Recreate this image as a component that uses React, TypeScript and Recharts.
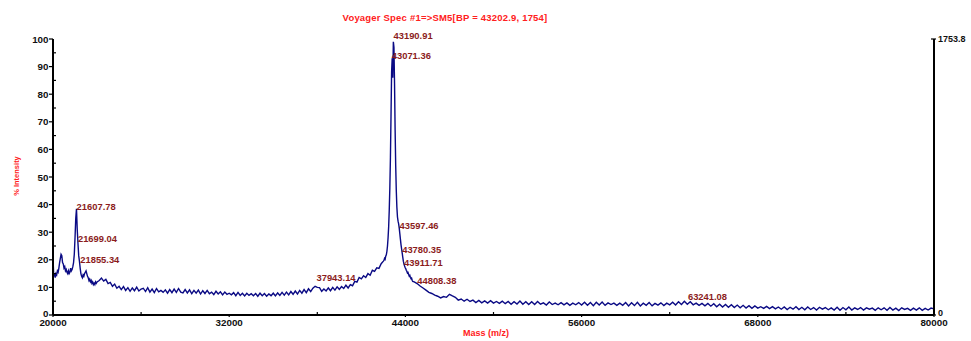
import { ComposedChart, Line, Scatter, XAxis, YAxis } from 'recharts'

// spectrum in four pieces, each on its own mass grid
const segAStart = 20000
const segAStep = 50
const segAValues = [
  21, 14, 15, 13.5, 15, 14.5, 16, 15.5, 17, 19,
  20.5, 22, 21.5, 19, 18.5, 17, 17.5, 16, 16.5, 15.5,
  15, 16, 15, 15.5, 17, 16, 16.5, 17.5, 19, 22,
  28, 35, 38.5, 31, 26, 21.5, 19.5, 17, 15, 14,
  13.5, 14.5, 14, 15, 15.5, 16, 15, 14, 13.5, 12.5,
  13, 12, 12.5, 11.5, 12, 11, 11.5, 11, 12, 11.5,
  12
]

const segBStart = 23150
const segBStep = 150
const segBValues = [
  12.5, 13.4, 12.3, 12.9, 11.4, 11.8, 10.4, 11.2, 9.7, 10.4,
  9.2, 10.3, 8.9, 9.9, 8.6, 9.8, 8.8, 10.1, 8.7, 9.4,
  9.7, 8.5, 9.9, 8.3, 9.4, 8.1, 9.6, 8.4, 8.9, 8.2,
  9.1, 7.9, 9.2, 8.1, 9.4, 8.2, 9.6, 8.3, 8.0, 9.2,
  8.0, 9.1, 7.7, 8.9, 7.9, 9.0, 7.6, 8.8, 7.8, 8.9,
  7.7, 8.3, 7.4, 8.6, 7.6, 8.4, 7.3, 8.3, 7.5, 7.9,
  7.3, 8.1, 7.0, 8.2, 7.1, 7.9, 6.9, 7.9, 7.1, 7.7,
  7.0, 7.8, 6.8, 7.9, 7.0, 7.8, 6.8, 7.6, 7.0, 7.9,
  6.9, 8.0, 7.1, 8.2, 7.2, 8.3, 7.3, 8.5, 7.5, 8.7,
  7.6, 8.9, 7.9, 9.2, 8.1, 9.5, 8.5, 9.7, 10.4, 10.0,
  9.9, 8.6, 9.4, 8.7, 9.8, 8.8, 10.0, 9.0, 10.2, 9.3,
  10.3, 9.6, 10.8, 9.8, 11.0, 10.6, 12.2, 11.9, 13.6, 13.1,
  14.2, 13.6, 15.0, 14.4, 16.2, 15.8, 17.1, 16.9, 18.6, 19.5
]

const segCStart = 42540
const segCStep = 40
const segCValues = [
  19.8, 20.5, 20.2, 21.3, 21.8, 23, 25, 28, 32, 38,
  46, 57, 72, 88, 93, 86, 99, 97, 84, 67,
  54, 45, 39, 35.5, 34, 33, 31.5, 29.5, 27.5, 25.5,
  24, 22.5, 21, 19.5, 18.5, 17.8, 17.2, 16.8, 16.2, 15.8,
  15.2, 15.4, 14.7, 14.1, 14.4, 13.6, 13.2, 13.4, 12.6, 12.2
]

const segDStart = 44600
const segDStep = 200
const segDValues = [
  12, 11.4, 10.5, 9.8, 9, 8.2, 7.8, 7.2, 6.8, 6.2,
  6.7, 6.4, 7.5, 6.9, 6.4, 5.4, 5.8, 5.0, 5.7, 4.9,
  5.4, 4.5, 5.3, 4.4, 5.1, 4.3, 5.2, 4.3, 4.9, 4.2,
  5.0, 4.1, 4.9, 3.9, 4.8, 4.0, 5.1, 3.9, 4.8, 3.8,
  4.8, 3.8, 4.9, 3.9, 4.4, 3.6, 4.7, 3.8, 4.3, 3.7,
  4.5, 3.7, 4.4, 3.5, 4.3, 3.7, 4.5, 3.6, 4.6, 3.5,
  4.5, 3.4, 4.6, 3.6, 4.7, 3.5, 4.4, 3.8, 4.3, 3.5,
  4.3, 3.5, 4.5, 3.3, 4.4, 3.4, 4.6, 3.3, 4.3, 3.5,
  4.5, 3.3, 4.2, 3.6, 4.4, 3.4, 4.3, 3.7, 4.6, 3.6,
  4.8, 3.8, 5.0, 3.9, 4.8, 3.7, 4.3, 3.5, 4.2, 3.3,
  4.2, 3.2, 4.1, 3.0, 3.9, 2.9, 3.8, 2.8, 3.7, 2.7,
  3.6, 2.6, 3.5, 2.5, 3.4, 2.4, 3.3, 2.5, 3.0, 2.4,
  3.1, 2.3, 3.0, 2.2, 2.9, 2.1, 2.9, 2.0, 2.8, 2.1,
  3.0, 2.0, 2.8, 1.9, 2.9, 2.0, 2.7, 1.8, 2.8, 2.1,
  2.7, 1.9, 2.6, 1.8, 2.8, 1.7, 2.7, 1.9, 2.9, 1.8,
  2.6, 2.0, 2.7, 1.8, 2.6, 2.1, 2.5, 1.7, 2.6, 1.9,
  2.6, 1.7, 2.7, 1.8, 2.5, 1.6, 2.6, 2.0, 2.4, 1.7,
  2.5, 1.8, 2.6, 1.7, 2.4, 1.8, 2.5, 2.2
]

// peak annotations: mass, and the intensity the text baseline sits on
const peakMasses = [
  21607.78, 21699.04, 21855.34, 37943.14, 43071.36, 43190.91,
  43597.46, 43780.35, 43911.71, 44808.38, 63241.08
]
const peakLabelLevels = [38.2, 26.6, 19, 12.5, 92.6, 100, 31, 22.6, 17.9, 11.1, 5.3]

const massTicks = [20000, 26000, 32000, 38000, 44000, 50000, 56000, 62000, 68000, 74000, 80000]
const intensityTicks = [0, 5, 10, 15, 20, 25, 30, 35, 40, 45, 50, 55, 60, 65, 70, 75, 80, 85, 90, 95, 100]
const countsMax = 1753.8
const countsTicks = [0, countsMax]

const segments = [
  { start: segAStart, step: segAStep, values: segAValues },
  { start: segBStart, step: segBStep, values: segBValues },
  { start: segCStart, step: segCStep, values: segCValues },
  { start: segDStart, step: segDStep, values: segDValues }
]

const spectrum = segments.flatMap((seg) =>
  seg.values.map((v, i) => ({ mass: seg.start + i * seg.step, intensity: v }))
)

const peakLabels = peakMasses.map((m, i) => ({
  mass: m,
  level: peakLabelLevels[i],
  text: m.toFixed(2)
}))

// invisible points so the right (counts) axis has a scale
const countsAnchor = countsTicks.map((c) => ({ mass: 80000, counts: c }))

const font = '"Liberation Sans", Arial, sans-serif'

const LeftTick = (props: any) => {
  const { x, y, payload } = props
  const v = payload.value
  if (v % 10 !== 0) {
    return <line x1={x} x2={x + 3} y1={y} y2={y} stroke="#000" strokeWidth={1.2} />
  }
  return (
    <g>
      <line x1={x - 4} x2={x} y1={y} y2={y} stroke="#000" strokeWidth={1.2} />
      <text
        x={x - 4.5}
        y={v === 0 ? y - 2 : y}
        textAnchor="end"
        dominantBaseline="central"
        fontFamily={font}
        fontWeight="bold"
        fontSize={9.8}
        fill="#111"
      >
        {v}
      </text>
    </g>
  )
}

const BottomTick = (props: any) => {
  const { x, y, payload } = props
  const v = payload.value
  if ((v - 20000) % 12000 !== 0) {
    return <line x1={x} x2={x} y1={y - 3} y2={y} stroke="#000" strokeWidth={1.2} />
  }
  return (
    <g>
      <line x1={x} x2={x} y1={y} y2={y + 2} stroke="#000" strokeWidth={1.2} />
      <text
        x={x}
        y={y + 7.5}
        textAnchor="middle"
        dominantBaseline="central"
        fontFamily={font}
        fontWeight="bold"
        fontSize={9.8}
        fill="#111"
      >
        {v}
      </text>
    </g>
  )
}

const RightTick = (props: any) => {
  const { x, y, payload } = props
  const v = payload.value
  return (
    <g>
      <line x1={x - 3} x2={x + 2} y1={y} y2={y} stroke="#000" strokeWidth={1.2} />
      <text
        x={x + 4}
        y={v === 0 ? y - 2.5 : y}
        dominantBaseline="central"
        fontFamily={font}
        fontWeight="bold"
        fontSize={9}
        fill="#111"
      >
        {v}
      </text>
    </g>
  )
}

const PeakText = (props: any) => {
  const { cx, cy, payload } = props
  return (
    <text
      x={cx}
      y={cy}
      fontFamily={font}
      fontWeight="bold"
      fontSize={9.4}
      fill="#8b1c1c"
    >
      {payload.text}
    </text>
  )
}

const Nothing = () => <g />

export default function App() {
  return (
    <div style={{ position: 'relative', width: 971, height: 341, background: '#fff' }}>
      <style>{'body{margin:0}'}</style>
      <div
        style={{
          position: 'absolute',
          left: 245,
          top: 12,
          width: 400,
          textAlign: 'center',
          fontFamily: font,
          fontWeight: 'bold',
          fontSize: 9.5,
          lineHeight: '11px',
          color: '#ff2020',
          letterSpacing: '0.2px',
          whiteSpace: 'nowrap'
        }}
      >
        Voyager Spec #1=&gt;SM5[BP = 43202.9, 1754]
      </div>
      <div
        style={{
          position: 'absolute',
          left: 15.5,
          top: 176,
          transform: 'translate(-50%, -50%) rotate(-90deg)',
          fontFamily: font,
          fontWeight: 'bold',
          fontSize: 7.5,
          color: '#ff2020',
          whiteSpace: 'nowrap'
        }}
      >
        % Intensity
      </div>
      <div
        style={{
          position: 'absolute',
          left: 436,
          top: 328,
          width: 100,
          textAlign: 'center',
          fontFamily: font,
          fontWeight: 'bold',
          fontSize: 9,
          lineHeight: '11px',
          color: '#ff2020',
          whiteSpace: 'nowrap'
        }}
      >
        Mass (m/z)
      </div>
      <ComposedChart
        width={971}
        height={341}
        data={spectrum}
        margin={{ top: 39, right: 0, bottom: 0, left: 0 }}
      >
        <XAxis
          dataKey="mass"
          type="number"
          domain={[20000, 80000]}
          ticks={massTicks}
          height={26}
          tickSize={0}
          tickMargin={0}
          tickLine={false}
          axisLine={{ stroke: '#000', strokeWidth: 2 }}
          tick={<BottomTick />}
          interval={0}
        />
        <YAxis
          yAxisId="left"
          type="number"
          domain={[0, 100]}
          ticks={intensityTicks}
          width={53}
          tickSize={0}
          tickMargin={0}
          tickLine={false}
          axisLine={{ stroke: '#000', strokeWidth: 2 }}
          tick={<LeftTick />}
          interval={0}
        />
        <YAxis
          yAxisId="right"
          orientation="right"
          type="number"
          domain={[0, countsMax]}
          ticks={countsTicks}
          width={37}
          tickSize={0}
          tickMargin={0}
          tickLine={false}
          axisLine={{ stroke: '#000', strokeWidth: 2 }}
          tick={<RightTick />}
          interval={0}
        />
        <Line
          yAxisId="left"
          dataKey="intensity"
          type="linear"
          stroke="#0a0a84"
          strokeWidth={1.4}
          dot={false}
          activeDot={false}
          isAnimationActive={false}
        />
        <Scatter
          yAxisId="left"
          data={peakLabels}
          dataKey="level"
          shape={<PeakText />}
          isAnimationActive={false}
        />
        <Scatter
          yAxisId="right"
          data={countsAnchor}
          dataKey="counts"
          shape={<Nothing />}
          isAnimationActive={false}
        />
      </ComposedChart>
    </div>
  )
}
